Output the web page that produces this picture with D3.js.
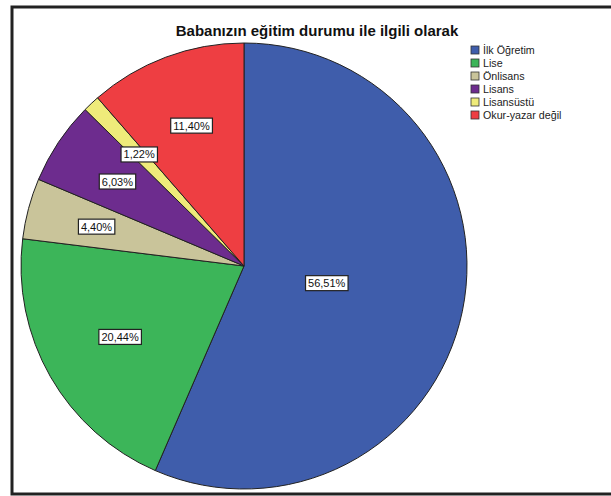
<!DOCTYPE html>
<html><head><meta charset="utf-8">
<script src="https://cdn.jsdelivr.net/npm/d3@7/dist/d3.min.js"></script>
<style>body{margin:0;background:#fff}svg{display:block}</style>
</head><body>
<script>
const categories = ["İlk Öğretim","Lise","Önlisans","Lisans","Lisansüstü","Okur-yazar değil"];
const values = [56.51, 20.44, 4.40, 6.03, 1.22, 11.40];
const labels = ["56,51%","20,44%","4,40%","6,03%","1,22%","11,40%"];
const colors = ["#3f5dab","#3cb559","#c9c49a","#6d2c8e","#efeb7a","#ee3e42"];
const title = "Babanızın eğitim durumu ile ilgili olarak";

const W = 611, H = 496;
const svg = d3.select("body").append("svg").attr("width", W).attr("height", H);
svg.append("rect").attr("width", W).attr("height", H).attr("fill", "#fff");
// frame
svg.append("rect").attr("x", 12).attr("y", 7).attr("width", 640).attr("height", 487)
  .attr("fill", "none").attr("stroke", "#222").attr("stroke-width", 3);

svg.append("text").attr("x", 317).attr("y", 36).attr("text-anchor", "middle")
  .attr("font-family", "Liberation Sans, Arial, sans-serif").attr("font-weight", "bold")
  .attr("font-size", 15).attr("fill", "#111").text(title);

const cx = 244, cy = 266, R = 223;
const pie = d3.pie().sort(null).value(d => d)(values);
const arc = d3.arc().innerRadius(0).outerRadius(R);
const g = svg.append("g").attr("transform", `translate(${cx},${cy})`);
g.selectAll("path").data(pie).join("path")
  .attr("d", arc).attr("fill", (d,i) => colors[i])
  .attr("stroke", "#222").attr("stroke-width", 1);

// labels at sector centroid
pie.forEach((d, i) => {
  const th = d.endAngle - d.startAngle;
  const mid = (d.startAngle + d.endAngle) / 2;
  const r = 4 * R * Math.sin(th / 2) / (3 * th) * 1.03;
  const x = Math.sin(mid) * r, y = -Math.cos(mid) * r;
  const t = g.append("text").attr("x", x).attr("y", y + 4).attr("text-anchor", "middle")
    .attr("font-family", "Liberation Sans, Arial, sans-serif").attr("font-size", 11)
    .attr("fill", "#111").text(labels[i]);
  const bb = t.node().getBBox();
  g.insert("rect", () => t.node()).attr("x", bb.x - 2.5).attr("y", bb.y - 1.5)
    .attr("width", bb.width + 5).attr("height", bb.height + 3)
    .attr("fill", "#fff").attr("stroke", "#222").attr("stroke-width", 1.2);
});

// legend
const lg = svg.append("g").attr("transform", "translate(471,46)");
categories.forEach((c, i) => {
  const y = i * 13;
  lg.append("rect").attr("x", 0).attr("y", y).attr("width", 8).attr("height", 8)
    .attr("fill", colors[i]).attr("stroke", "#333").attr("stroke-width", 0.8);
  lg.append("text").attr("x", 12).attr("y", y + 8).attr("font-family", "Liberation Sans, Arial, sans-serif")
    .attr("font-size", 10.7).attr("fill", "#222").text(c);
});
</script>
</body></html>
